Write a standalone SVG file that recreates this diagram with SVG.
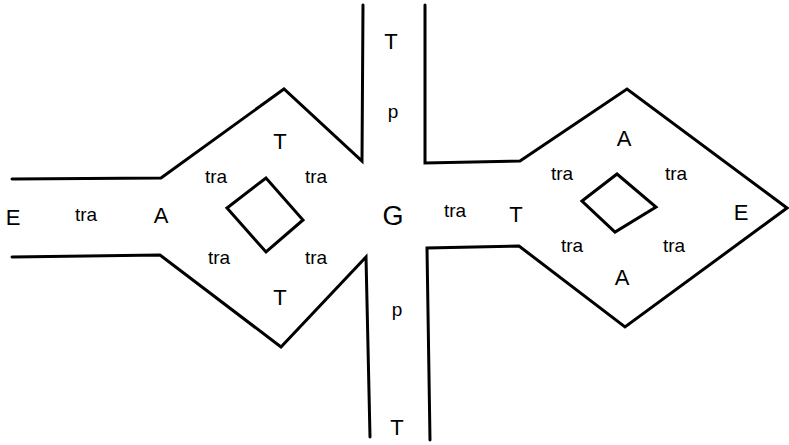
<svg xmlns="http://www.w3.org/2000/svg" width="789" height="445" viewBox="0 0 789 445">
<style>
.l{fill:none;stroke:#000;stroke-width:3;stroke-linejoin:miter;stroke-linecap:round}
text{font-family:"Liberation Sans",Arial,sans-serif;fill:#000;text-anchor:middle}
.c{font-size:22px}
.s{font-size:19px}
.g{font-size:27px}
</style>
<rect width="789" height="445" fill="#fff"/>
<g id="connectors">
<polyline class="l" points="12,179 161,178 284,89 362,161 363,5"/>
<polyline class="l" points="12,257 160,255 281,347 366,257 370,437"/>
<polyline class="l" points="425,5 425,163 520,161 627,89 787,208 625,327 519,246 427,248 430,440"/>
</g>
<g id="left-square"><polygon class="l" points="227,208 266,178 303,220 266,252"/></g>
<g id="right-square"><polygon class="l" points="582,201 617,174 656,207 615,232"/></g>
<g id="labels-left">
<text class="c" x="13" y="225">E</text>
<text class="s" x="86" y="221">tra</text>
<text class="c" x="161" y="223">A</text>
<text class="c" x="280" y="149">T</text>
<text class="s" x="216" y="183">tra</text>
<text class="s" x="316" y="183">tra</text>
<text class="s" x="219" y="264">tra</text>
<text class="s" x="316" y="264">tra</text>
<text class="c" x="280" y="305">T</text>
</g>
<g id="labels-center">
<text class="g" x="393" y="225">G</text>
<text class="c" x="391" y="49">T</text>
<text class="s" x="393" y="118">p</text>
<text class="s" x="397" y="316">p</text>
<text class="c" x="397" y="435">T</text>
</g>
<g id="labels-right">
<text class="s" x="455" y="217">tra</text>
<text class="c" x="516" y="222">T</text>
<text class="c" x="624" y="146">A</text>
<text class="s" x="562" y="180">tra</text>
<text class="s" x="676" y="180">tra</text>
<text class="s" x="572" y="252">tra</text>
<text class="s" x="674" y="252">tra</text>
<text class="c" x="622" y="285">A</text>
<text class="c" x="741" y="220">E</text>
</g>
</svg>
